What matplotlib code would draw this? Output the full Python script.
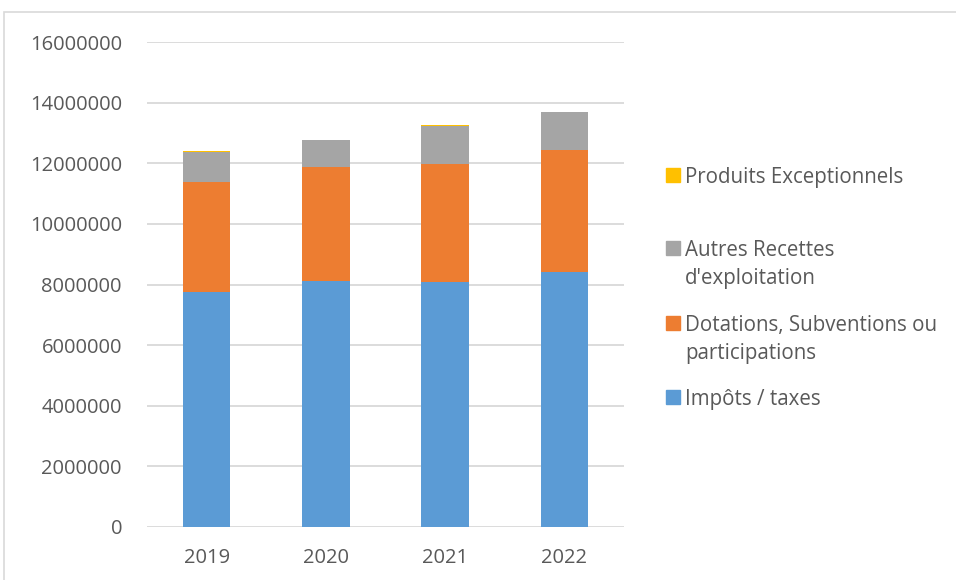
import matplotlib
matplotlib.use("Agg")
import matplotlib.pyplot as plt
from matplotlib.patches import Rectangle
import numpy as np

years = ["2019", "2020", "2021", "2022"]
impots = [7750000, 8130000, 8080000, 8400000]
dotations = [3640000, 3740000, 3900000, 4040000]
autres = [980000, 890000, 1260000, 1250000]
produits = [40000, 20000, 25000, 12000]

series_labels = ["Impôts / taxes", "Dotations, Subventions ou\nparticipations",
                 "Autres Recettes\nd'exploitation", "Produits Exceptionnels"]
series_values = [impots, dotations, autres, produits]
colors = ["#5B9BD5", "#ED7D31", "#A5A5A5", "#FFC000"]
yticks = [0, 2000000, 4000000, 6000000, 8000000, 10000000, 12000000, 14000000, 16000000]

W, H = 956, 580
plt.rcParams['font.family'] = ['Open Sans', 'DejaVu Sans']
fig = plt.figure(figsize=(W / 100, H / 100), dpi=100)

def fx(px):
    return px / W

def fy(py):
    return 1 - py / H

ax = fig.add_axes([fx(147), fy(527), fx(624) - fx(147), fy(42) - fy(527)])

x = np.arange(len(years))
bottom = np.zeros(len(years))
for vals, c, lab in zip(series_values, colors, series_labels):
    ax.bar(x, vals, width=0.4, bottom=bottom, color=c, edgecolor="none", zorder=3)
    bottom += np.array(vals)

ax.set_xlim(-0.5, len(years) - 0.5)
ax.set_ylim(0, 16000000)
ax.set_yticks(yticks)
ax.set_yticklabels([str(v) for v in yticks])
ax.set_xticks(x)
ax.set_xticklabels(years)
ax.yaxis.grid(True, color="#D9D9D9", linewidth=1.3, zorder=0)
ax.set_axisbelow(True)
for s in ax.spines.values():
    s.set_visible(False)
ax.tick_params(axis="both", length=0, labelsize=14.5, colors="#595959")
ax.tick_params(axis="y", pad=18)
ax.tick_params(axis="x", pad=15)

# border of chart area
fig.patches.append(Rectangle((fx(4), fy(590)), fx(1000) - fx(4), fy(12) - fy(590),
                             transform=fig.transFigure, fill=False,
                             edgecolor="#D9D9D9", linewidth=1.2))

# legend (top entry = last series)
entry_tops = [397, 323, 248, 175]
for lab, c, yc in zip(series_labels, colors, entry_tops):
    fig.patches.append(Rectangle((fx(666), fy(yc + 7)), fx(14), fy(0) - fy(14),
                                 transform=fig.transFigure, color=c))
    fig.text(fx(685), fy(yc - 8), lab, ha="left", va="top", fontsize=14.8,
             color="#595959", linespacing=1.45)

fig.savefig("out.png", dpi=100, facecolor="white")
